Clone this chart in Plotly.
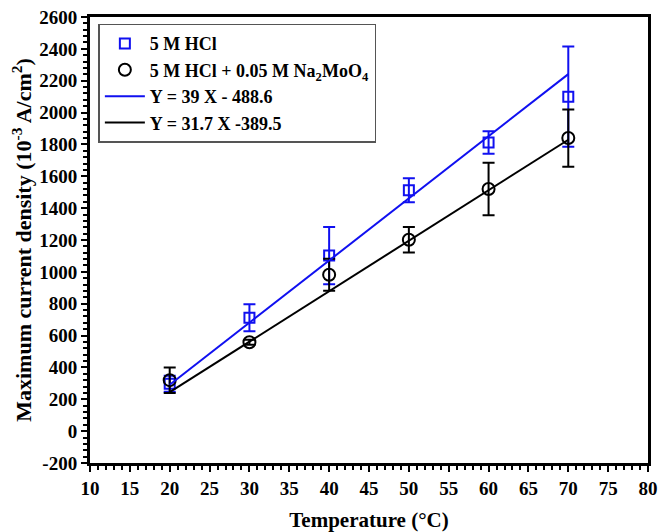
import plotly.graph_objects as go

temperature = [20, 30, 40, 50, 60, 70]
hcl_values = [298, 712, 1102, 1512, 1812, 2100]
hcl_errors = [50, 85, 180, 75, 70, 315]
moo4_values = [320, 558, 982, 1202, 1520, 1840]
moo4_errors = [80, 15, 100, 80, 165, 180]

fit_x = [20, 70]
fit_hcl = [291.4, 2241.4]
fit_moo4 = [244.5, 1829.5]

x_ticks = list(range(10, 81, 5))
y_ticks = list(range(-200, 2601, 200))

FONT = "Liberation Serif"
BLUE = "#1010F0"

fig = go.Figure()

fig.add_trace(go.Scatter(
    x=temperature, y=hcl_values, mode="markers", name="5 M HCl",
    marker=dict(symbol="square-open", size=10, color=BLUE, line=dict(width=2, color=BLUE)),
    error_y=dict(type="data", array=hcl_errors, visible=True, color=BLUE, thickness=2, width=6),
))
fig.add_trace(go.Scatter(
    x=temperature, y=moo4_values, mode="markers",
    name="5 M HCl + 0.05 M Na<sub>2</sub>MoO<sub>4</sub>",
    marker=dict(symbol="circle-open", size=12, color="black", line=dict(width=2, color="black")),
    error_y=dict(type="data", array=moo4_errors, visible=True, color="black", thickness=2, width=6),
))
fig.add_trace(go.Scatter(
    x=fit_x, y=fit_hcl, mode="lines", name="Y = 39 X - 488.6",
    line=dict(color=BLUE, width=2),
))
fig.add_trace(go.Scatter(
    x=fit_x, y=fit_moo4, mode="lines", name="Y = 31.7 X -389.5",
    line=dict(color="black", width=2),
))

axis_common = dict(
    showgrid=False, zeroline=False, showline=True, linecolor="black", linewidth=3,
    mirror=True, ticks="outside", tickcolor="black", tickwidth=2, ticklen=6,
    automargin=False,
)

x_text = ["<b>%d</b>" % v for v in x_ticks]
y_text = ["<b>%d</b>" % v for v in y_ticks]
tick_font = dict(family=FONT, size=19, color="black")

fig.update_xaxes(
    range=[10, 80], tickmode="array", tickvals=x_ticks, ticktext=x_text,
    tickfont=tick_font,
    title=dict(text="<b>Temperature (°C)</b>", font=dict(size=21), standoff=20),
    minor=dict(dtick=1, ticks="outside", ticklen=4, tickcolor="black", tickwidth=2),
    **axis_common,
)
fig.update_yaxes(
    range=[-200, 2600], tickmode="array", tickvals=y_ticks, ticktext=y_text,
    tickfont=tick_font,
    title=dict(text="<b>Maximum current density (10<sup>-3</sup> A/cm<sup>2</sup>)</b>",
               font=dict(size=22), standoff=2),
    minor=dict(dtick=40, ticks="outside", ticklen=4, tickcolor="black", tickwidth=2),
    **axis_common,
)

fig.update_layout(
    width=658, height=532,
    margin=dict(l=90, r=10, t=17, b=69),
    paper_bgcolor="white", plot_bgcolor="white",
    font=dict(family=FONT, size=18, color="black", weight="bold"),
    showlegend=True,
    legend=dict(
        x=0.015, y=0.985, xanchor="left", yanchor="top",
        bgcolor="white", bordercolor="#555555", borderwidth=1.5,
        font=dict(size=18),
        tracegroupgap=0, itemwidth=40,
    ),
)

fig.write_html("out.html")
